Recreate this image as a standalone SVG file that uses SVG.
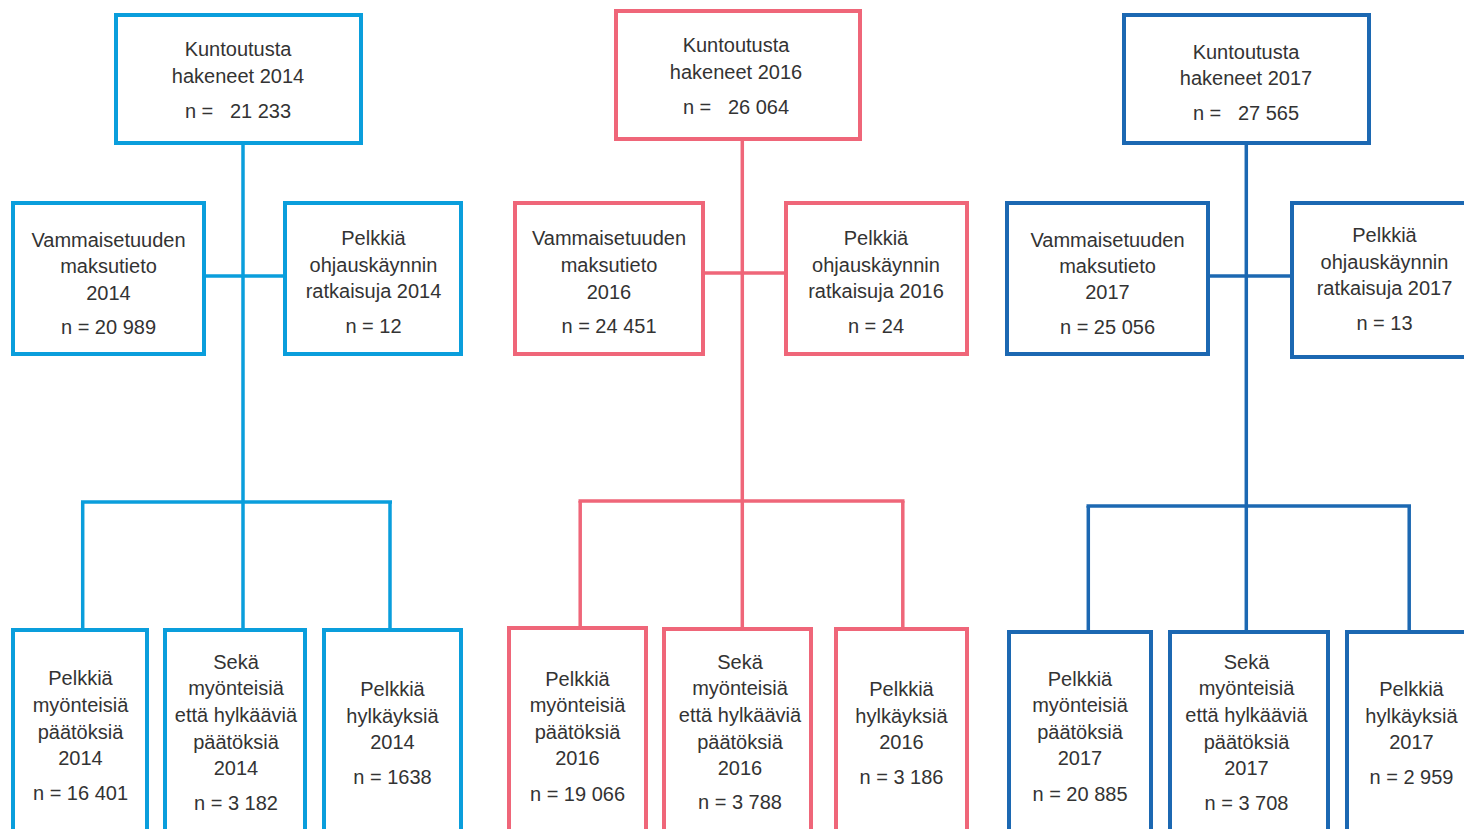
<svg xmlns="http://www.w3.org/2000/svg" width="1464" height="829" viewBox="0 0 1464 829">
<style>
rect{fill:#fff;stroke-width:4}
.c1{stroke:#0a9edc}
.c2{stroke:#ef6679}
.c3{stroke:#1c68b2}
line{stroke-width:3.5;stroke-linecap:butt}
text{font-family:"Liberation Sans",Arial,sans-serif;font-size:20px;fill:#333;text-anchor:middle;white-space:pre}
</style>
<rect x="0" y="0" width="1464" height="829" style="fill:#fff;stroke:none"/>
<g id="connectors">
<g class="c1">
<line x1="243" y1="145" x2="243" y2="502"/>
<line x1="206" y1="276" x2="284" y2="276"/>
<line x1="81" y1="502" x2="392" y2="502"/>
<line x1="82.7" y1="502" x2="82.7" y2="629"/>
<line x1="243" y1="502" x2="243" y2="629"/>
<line x1="390" y1="502" x2="390" y2="629"/>
</g>
<g class="c2">
<line x1="742.3" y1="141" x2="742.3" y2="501"/>
<line x1="705" y1="273" x2="785" y2="273"/>
<line x1="578.5" y1="501" x2="904.5" y2="501"/>
<line x1="580.2" y1="501" x2="580.2" y2="627"/>
<line x1="742.3" y1="501" x2="742.3" y2="628"/>
<line x1="902.8" y1="501" x2="902.8" y2="628"/>
</g>
<g class="c3">
<line x1="1246.3" y1="145" x2="1246.3" y2="506"/>
<line x1="1210" y1="276" x2="1291" y2="276"/>
<line x1="1086.5" y1="506" x2="1411" y2="506"/>
<line x1="1088.3" y1="506" x2="1088.3" y2="631"/>
<line x1="1246.3" y1="506" x2="1246.3" y2="631"/>
<line x1="1409.2" y1="506" x2="1409.2" y2="631"/>
</g>
</g>
<!-- 2014 -->
<g id="top2014"><rect class="c1" x="116" y="15" width="245" height="128"/>
<text x="238" y="56">Kuntoutusta</text><text x="238" y="83">hakeneet 2014</text><text x="238" y="118">n =   21 233</text></g>
<g id="vam2014"><rect class="c1" x="13" y="203" width="191" height="151"/>
<text x="108.5" y="246.5">Vammaisetuuden</text><text x="108.5" y="273">maksutieto</text><text x="108.5" y="300">2014</text><text x="108.5" y="334">n = 20 989</text></g>
<g id="ohj2014"><rect class="c1" x="285" y="203" width="176" height="151"/>
<text x="373.5" y="245">Pelkkiä</text><text x="373.5" y="271.5">ohjauskäynnin</text><text x="373.5" y="298">ratkaisuja 2014</text><text x="373.5" y="332.5">n = 12</text></g>
<g id="myo2014"><rect class="c1" x="13" y="630" width="134" height="230"/>
<text x="80.5" y="685">Pelkkiä</text><text x="80.5" y="712">myönteisiä</text><text x="80.5" y="738.5">päätöksiä</text><text x="80.5" y="765">2014</text><text x="80.5" y="800">n = 16 401</text></g>
<g id="mol2014"><rect class="c1" x="165" y="630" width="140" height="230"/>
<text x="236" y="668.5">Sekä</text><text x="236" y="695">myönteisiä</text><text x="236" y="721.5">että hylkääviä</text><text x="236" y="748.5">päätöksiä</text><text x="236" y="775">2014</text><text x="236" y="810">n = 3 182</text></g>
<g id="hyl2014"><rect class="c1" x="324" y="630" width="137" height="230"/>
<text x="392.5" y="696">Pelkkiä</text><text x="392.5" y="722.5">hylkäyksiä</text><text x="392.5" y="749">2014</text><text x="392.5" y="783.5">n = 1638</text></g>
<!-- 2016 -->
<g id="top2016"><rect class="c2" x="616" y="11" width="244" height="128"/>
<text x="736" y="52">Kuntoutusta</text><text x="736" y="79">hakeneet 2016</text><text x="736" y="114">n =   26 064</text></g>
<g id="vam2016"><rect class="c2" x="515" y="203" width="188" height="151"/>
<text x="609" y="245">Vammaisetuuden</text><text x="609" y="271.5">maksutieto</text><text x="609" y="298.5">2016</text><text x="609" y="332.5">n = 24 451</text></g>
<g id="ohj2016"><rect class="c2" x="786" y="203" width="181" height="151"/>
<text x="876" y="245">Pelkkiä</text><text x="876" y="271.5">ohjauskäynnin</text><text x="876" y="298">ratkaisuja 2016</text><text x="876" y="332.5">n = 24</text></g>
<g id="myo2016"><rect class="c2" x="509" y="628" width="137" height="232"/>
<text x="577.5" y="685.5">Pelkkiä</text><text x="577.5" y="712">myönteisiä</text><text x="577.5" y="738.5">päätöksiä</text><text x="577.5" y="765">2016</text><text x="577.5" y="800.5">n = 19 066</text></g>
<g id="mol2016"><rect class="c2" x="664" y="629" width="147" height="232"/>
<text x="740" y="668.5">Sekä</text><text x="740" y="695">myönteisiä</text><text x="740" y="721.5">että hylkääviä</text><text x="740" y="748.5">päätöksiä</text><text x="740" y="775">2016</text><text x="740" y="808.5">n = 3 788</text></g>
<g id="hyl2016"><rect class="c2" x="836" y="629" width="131" height="232"/>
<text x="901.5" y="696">Pelkkiä</text><text x="901.5" y="722.5">hylkäyksiä</text><text x="901.5" y="749">2016</text><text x="901.5" y="784">n = 3 186</text></g>
<!-- 2017 -->
<g id="top2017"><rect class="c3" x="1124" y="15" width="245" height="128"/>
<text x="1246" y="59">Kuntoutusta</text><text x="1246" y="85">hakeneet 2017</text><text x="1246" y="120">n =   27 565</text></g>
<g id="vam2017"><rect class="c3" x="1007" y="203" width="201" height="151"/>
<text x="1107.5" y="246.5">Vammaisetuuden</text><text x="1107.5" y="273">maksutieto</text><text x="1107.5" y="299">2017</text><text x="1107.5" y="333.5">n = 25 056</text></g>
<g id="ohj2017"><rect class="c3" x="1292" y="203" width="190" height="154"/>
<text x="1384.5" y="241.5">Pelkkiä</text><text x="1384.5" y="268.5">ohjauskäynnin</text><text x="1384.5" y="295">ratkaisuja 2017</text><text x="1384.5" y="330">n = 13</text></g>
<g id="myo2017"><rect class="c3" x="1009" y="632" width="142" height="230"/>
<text x="1080" y="685.5">Pelkkiä</text><text x="1080" y="712">myönteisiä</text><text x="1080" y="738.5">päätöksiä</text><text x="1080" y="765">2017</text><text x="1080" y="800.5">n = 20 885</text></g>
<g id="mol2017"><rect class="c3" x="1170" y="632" width="158" height="230"/>
<text x="1246.5" y="668.5">Sekä</text><text x="1246.5" y="695">myönteisiä</text><text x="1246.5" y="721.5">että hylkääviä</text><text x="1246.5" y="748.5">päätöksiä</text><text x="1246.5" y="775">2017</text><text x="1246.5" y="810">n = 3 708</text></g>
<g id="hyl2017"><rect class="c3" x="1347" y="632" width="140" height="230"/>
<text x="1411.5" y="696">Pelkkiä</text><text x="1411.5" y="722.5">hylkäyksiä</text><text x="1411.5" y="749">2017</text><text x="1411.5" y="784">n = 2 959</text></g>
</svg>
